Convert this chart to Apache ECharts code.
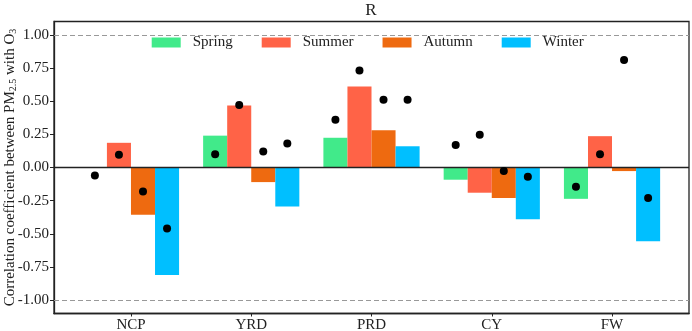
<!DOCTYPE html>
<html>
<head>
<meta charset="utf-8">
<script src="https://cdn.jsdelivr.net/npm/echarts@6/dist/echarts.min.js"></script>
<style>
  html, body { margin: 0; padding: 0; background: #fff; }
  #chart { width: 692px; height: 331px; }
</style>
</head>
<body>
<div id="chart"></div>
<script>
// 資料
const regions = ['NCP', 'YRD', 'PRD', 'CY', 'FW'];
const seasons = ['Spring', 'Summer', 'Autumn', 'Winter'];
const colors = ['#41EA8A', '#FF6347', '#EE6A10', '#00BFFF'];

// 長條 (R)
const springBar = [0.0, 0.24, 0.224, -0.092, -0.236];
const summerBar = [0.186, 0.467, 0.61, -0.19, 0.236];
const autumnBar = [-0.356, -0.11, 0.28, -0.23, -0.027];
const winterBar = [-0.81, -0.294, 0.16, -0.39, -0.556];

// 黑點
const springDot = [-0.06, 0.10, 0.36, 0.17, -0.145];
const summerDot = [0.096, 0.47, 0.73, 0.246, 0.10];
const autumnDot = [-0.18, 0.12, 0.51, -0.026, 0.81];
const winterDot = [-0.46, 0.18, 0.51, -0.07, -0.23];

const yTicks = [-1, -0.75, -0.5, -0.25, 0, 0.25, 0.5, 0.75, 1];
const xTicks = [0, 1, 2, 3, 4];

const bars = [springBar, summerBar, autumnBar, winterBar];
const dots = [springDot, summerDot, autumnDot, winterDot];

const font = 'Liberation Serif';
const ink = '#222';
const barFrac = 0.2; // bar width in category units

const chart = echarts.init(document.getElementById('chart'));

const series = [];
bars.forEach((vals, k) => {
  const s = {
    name: seasons[k],
    type: 'bar',
    data: vals.map((v, i) => [i, v]),
    barWidth: '20%',
    barGap: '0%',
    itemStyle: { color: colors[k] },
    z: 2,
  };
  if (k === 0) {
    s.markLine = {
      silent: true,
      symbol: 'none',
      label: { show: false },
      data: [
        { yAxis: 1, lineStyle: { color: '#999', type: [5, 3], width: 1 } },
        { yAxis: -1, lineStyle: { color: '#999', type: [5, 3], width: 1 } },
        { yAxis: 0, lineStyle: { color: ink, type: 'solid', width: 1.3 } },
      ],
      z: 3,
    };
  }
  series.push(s);
});
dots.forEach((vals, k) => {
  series.push({
    name: seasons[k] + ' dot',
    type: 'scatter',
    data: vals.map((v, i) => [i + (k - 1.5) * barFrac, v]),
    symbolSize: 8,
    itemStyle: { color: '#000', opacity: 1 },
    z: 5,
  });
});

chart.setOption({
  animation: false,
  title: {
    text: 'R',
    left: 371,
    textAlign: 'center',
    top: 2,
    padding: 0,
    textStyle: { fontFamily: font, fontSize: 17, fontWeight: 'normal', color: ink },
  },
  legend: {
    data: seasons,
    left: 151.7,
    top: 35,
    padding: 0,
    icon: 'rect',
    itemWidth: 29,
    itemHeight: 10,
    itemGap: 29,
    textStyle: { fontFamily: font, fontSize: 15, color: ink, padding: [0, 0, 0, 7] },
  },
  grid: {
    left: 54, right: 3, top: 21.5, bottom: 17.5,
    outerBoundsMode: 'none',
    containLabel: false,
    show: true, borderColor: ink, borderWidth: 1.3,
  },
  xAxis: {
    type: 'value',
    min: -0.64,
    max: 4.64,
    axisLine: { show: true, onZero: false, lineStyle: { color: ink, width: 1.3 } },
    axisTick: { show: true, customValues: xTicks, length: 3, lineStyle: { color: ink } },
    axisLabel: {
      customValues: xTicks,
      formatter: v => regions[v],
      fontFamily: font, fontSize: 15, color: ink, margin: 4,
    },
    splitLine: { show: false },
  },
  yAxis: {
    type: 'value',
    min: -1.1,
    max: 1.1,
    name: 'Correlation coefficient between PM{s|2.5} with O{s|3}',
    nameLocation: 'middle',
    nameGap: 36,
    nameMoveOverlap: false,
    nameTextStyle: {
      fontFamily: font, fontSize: 15, color: ink,
      rich: { s: { fontFamily: font, fontSize: 10, color: ink, verticalAlign: 'bottom' } },
    },
    axisLine: { show: true, onZero: false, lineStyle: { color: ink, width: 1.3 } },
    axisTick: { show: true, customValues: yTicks, length: 4, lineStyle: { color: ink } },
    axisLabel: {
      customValues: yTicks,
      formatter: v => v.toFixed(2),
      fontFamily: font, fontSize: 15, color: ink, margin: 5,
    },
    splitLine: { show: false },
  },
  series: series,
});
</script>
</body>
</html>
